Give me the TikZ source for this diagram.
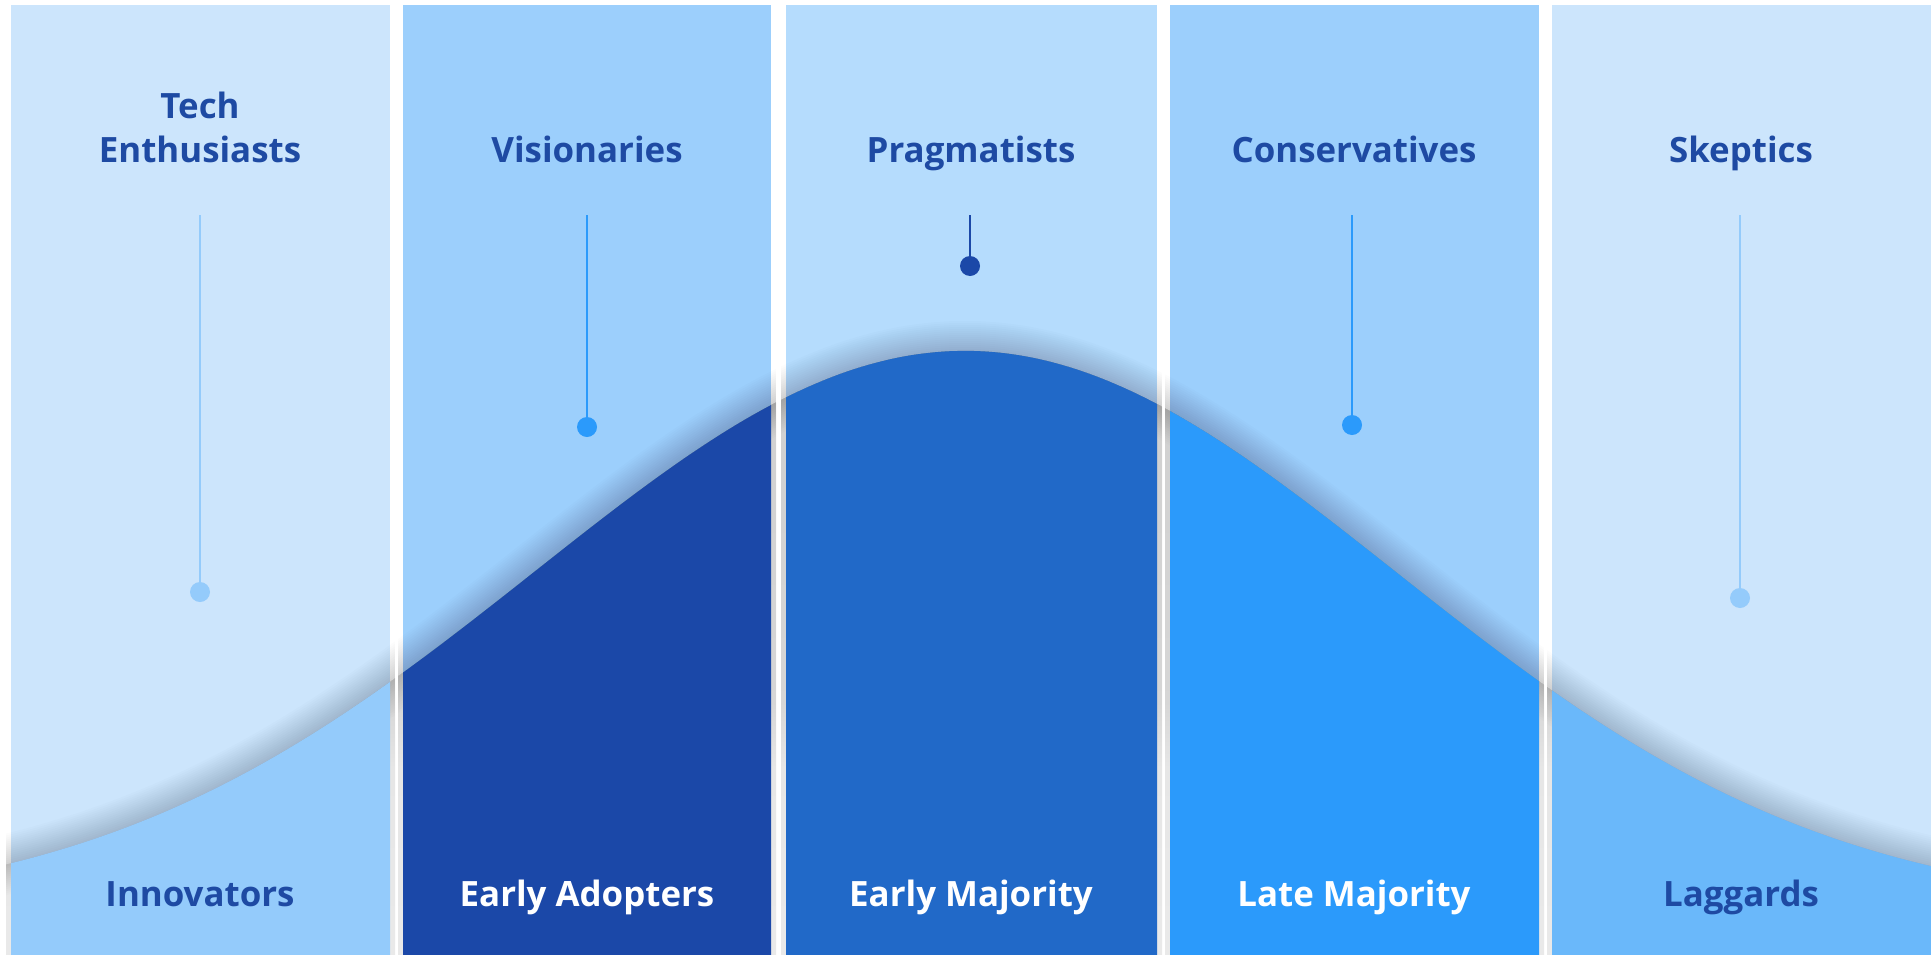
\documentclass[tikz,border=0pt]{standalone}
\usepackage{fontspec}
\setmainfont{Open Sans}
\definecolor{paleA}{HTML}{CCE5FC}
\definecolor{paleB}{HTML}{9CCFFC}
\definecolor{paleC}{HTML}{B5DCFD}
\definecolor{lowA}{HTML}{94CBFB}
\definecolor{lowB}{HTML}{1B48A8}
\definecolor{lowC}{HTML}{2169C8}
\definecolor{lowD}{HTML}{2B9AFB}
\definecolor{lowE}{HTML}{6AB8FA}
\definecolor{ink}{HTML}{1E4AA3}
\definecolor{shade}{HTML}{2F5DB8}
\newcommand\bellcurve{plot[domain=-10:1945, samples=160, smooth] (\x, {911-560*exp(-0.5*((\x-965)/430)^2)})}
\newcommand\bellregion{(-10,960) -- plot[domain=-10:1945, samples=160, smooth] (\x, {911-560*exp(-0.5*((\x-965)/430)^2)}) -- (1945,960) -- cycle}
\tikzset{
  title/.style={font=\fontsize{35}{44}\selectfont\bfseries, text=ink, inner sep=0pt, anchor=base, align=center},
  label/.style={font=\fontsize{35}{44}\selectfont\bfseries, inner sep=0pt, anchor=base},
  pin/.style={circle, inner sep=0pt, minimum size=20bp},
  stem/.style={line width=2.5bp},
}
\begin{document}
\begin{tikzpicture}[x=1bp,y=-1bp]
\useasboundingbox (0,0) rectangle (1931,955);
\fill[white] (0,0) rectangle (1931,955);
% columns: left, right, top colour, bottom colour
\foreach \xl/\xr/\ct/\cb in {11/390/paleA/lowA, 403/771/paleB/lowB, 786/1157/paleC/lowC, 1170/1539/paleB/lowD, 1552/1940/paleA/lowE}{
  \fill[\ct] (\xl,5) rectangle (\xr,955);
  \begin{scope}
    \clip (\xl-5,5) rectangle (\xr+5,955);
    \fill[shade, opacity=0.09] \bellregion;
    \foreach \w in {4,8,...,60}{
      \draw[shade, opacity=0.013, line width=\w bp] \bellcurve;
    }
  \end{scope}
  \begin{scope}
    \clip (\xl,5) rectangle (\xr,955);
    \fill[\cb] \bellregion;
  \end{scope}
}
% titles
\node[title] (t1) at (200,162) {Tech\\Enthusiasts};
\node[title] (t2) at (587,162) {Visionaries};
\node[title] (t3) at (971,162) {Pragmatists};
\node[title] (t4) at (1354,162) {Conservatives};
\node[title] (t5) at (1741,162) {Skeptics};
% bottom labels
\node[label, text=ink] (b1) at (200,906) {Innovators};
\node[label, text=white] (b2) at (587,906) {Early Adopters};
\node[label, text=white] (b3) at (971,906) {Early Majority};
\node[label, text=white] (b4) at (1354,906) {Late Majority};
\node[label, text=ink] (b5) at (1741,906) {Laggards};
% stems and pins
\coordinate (s1) at (200,215);
\coordinate (s2) at (587,215);
\coordinate (s3) at (970,215);
\coordinate (s4) at (1352,215);
\coordinate (s5) at (1740,215);
\node[pin, fill=lowA] (p1) at (200,592) {};
\node[pin, fill=lowD] (p2) at (587,427) {};
\node[pin, fill=lowB] (p3) at (970,266) {};
\node[pin, fill=lowD] (p4) at (1352,425) {};
\node[pin, fill=lowA] (p5) at (1740,598) {};
\draw[stem, lowA] (s1) -- (p1.center);
\draw[stem, lowD] (s2) -- (p2.center);
\draw[stem, lowB] (s3) -- (p3.center);
\draw[stem, lowD] (s4) -- (p4.center);
\draw[stem, lowA] (s5) -- (p5.center);
\end{tikzpicture}
\end{document}
